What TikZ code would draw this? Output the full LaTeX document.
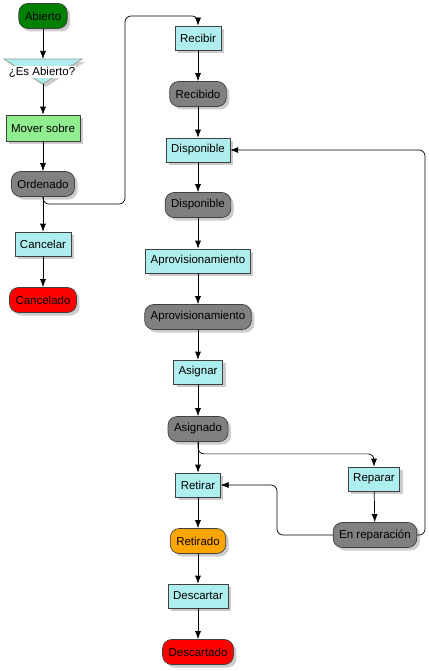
\documentclass[tikz,border=0pt]{standalone}
\usepackage{fontspec}
\setmainfont{Liberation Sans}
\usetikzlibrary{shadows,arrows.meta}
\definecolor{verde}{RGB}{0,128,0}
\definecolor{verdeclaro}{RGB}{144,238,144}
\definecolor{celeste}{RGB}{175,238,238}
\definecolor{gris}{RGB}{128,128,128}
\definecolor{naranja}{RGB}{255,165,0}
\begin{document}
\begin{tikzpicture}[>={Latex[length=8pt,width=6pt]}, x=1pt, y=-1pt,
  font=\fontsize{11.5}{13}\selectfont, line width=.7pt,
  sombra/.style={drop shadow={fill=black!40, opacity=.5, shadow xshift=3pt, shadow yshift=-3pt}},
  accion/.style={draw=black!75, fill=celeste, minimum height=24pt, inner xsep=5pt, sombra},
  estado/.style={draw=black!75, fill=gris, rounded corners=9pt, minimum height=25pt, inner xsep=6pt, sombra}]
\useasboundingbox (0,0) rectangle (428,671);

% columna izquierda
\node[estado, fill=verde] (abierto) at (43,16) {Abierto};
\fill[black!40, opacity=.5] (7,62)--(85,62)--(46,87)--cycle;
\filldraw[fill=celeste, draw=black!40] (4,59)--(82,59)--(43,84)--cycle;
\coordinate (esabtop) at (43,59);
\coordinate (esabtip) at (43,84);
\node[fill=white, inner sep=1pt] (esab) at (42,72) {¿Es Abierto?};
\node[accion, fill=verdeclaro, minimum height=26pt] (mover) at (43,128) {Mover sobre};
\node[estado] (ordenado) at (43,184) {Ordenado};
\node[accion] (cancelar) at (43,244) {Cancelar};
\node[estado, fill=red] (cancelado) at (43,300) {Cancelado};

% columna derecha
\node[accion] (recibir) at (198,38) {Recibir};
\node[estado] (recibido) at (198,94) {Recibido};
\node[accion] (disp1) at (198,150) {Disponible};
\node[estado] (disp2) at (198,205) {Disponible};
\node[accion] (aprov1) at (198,261) {Aprovisionamiento};
\node[estado] (aprov2) at (198,317) {Aprovisionamiento};
\node[accion] (asignar) at (198,372) {Asignar};
\node[estado] (asignado) at (198,429) {Asignado};
\node[accion] (retirar) at (198,485) {Retirar};
\node[estado, fill=naranja] (retirado) at (198,541) {Retirado};
\node[accion] (descartar) at (198,596) {Descartar};
\node[estado, fill=red] (descartado) at (198,652) {Descartado};
\node[accion] (reparar) at (374,479) {Reparar};
\node[estado] (enrep) at (375,535) {En reparación};

\draw[->] (abierto) -- (esabtop);
\draw[->] (esabtip) -- (mover);
\draw[->] (mover) -- (ordenado);
\draw[->] (ordenado) -- (cancelar);
\draw[->] (cancelado.north |- cancelar.south) -- (cancelado);
\draw[->, rounded corners=6pt] (ordenado.south) |- (125,204) -- (125,16) -| (recibir.north);

\foreach \a/\b in {recibir/recibido, recibido/disp1, disp1/disp2, disp2/aprov1,
  aprov1/aprov2, aprov2/asignar, asignar/asignado, asignado/retirar,
  retirar/retirado, retirado/descartar, descartar/descartado, reparar/enrep}
{
    \draw[->] (\a) -- (\b);
}
\draw[->, rounded corners=6pt] (asignado.south) -- ++(0,12) -| (reparar.north);
\draw[->, rounded corners=6pt] (enrep.west) -- (277,535) |- (retirar.east);
\draw[->, rounded corners=6pt] (enrep.east) -- (425,535) |- (disp1.east);
\end{tikzpicture}
\end{document}
